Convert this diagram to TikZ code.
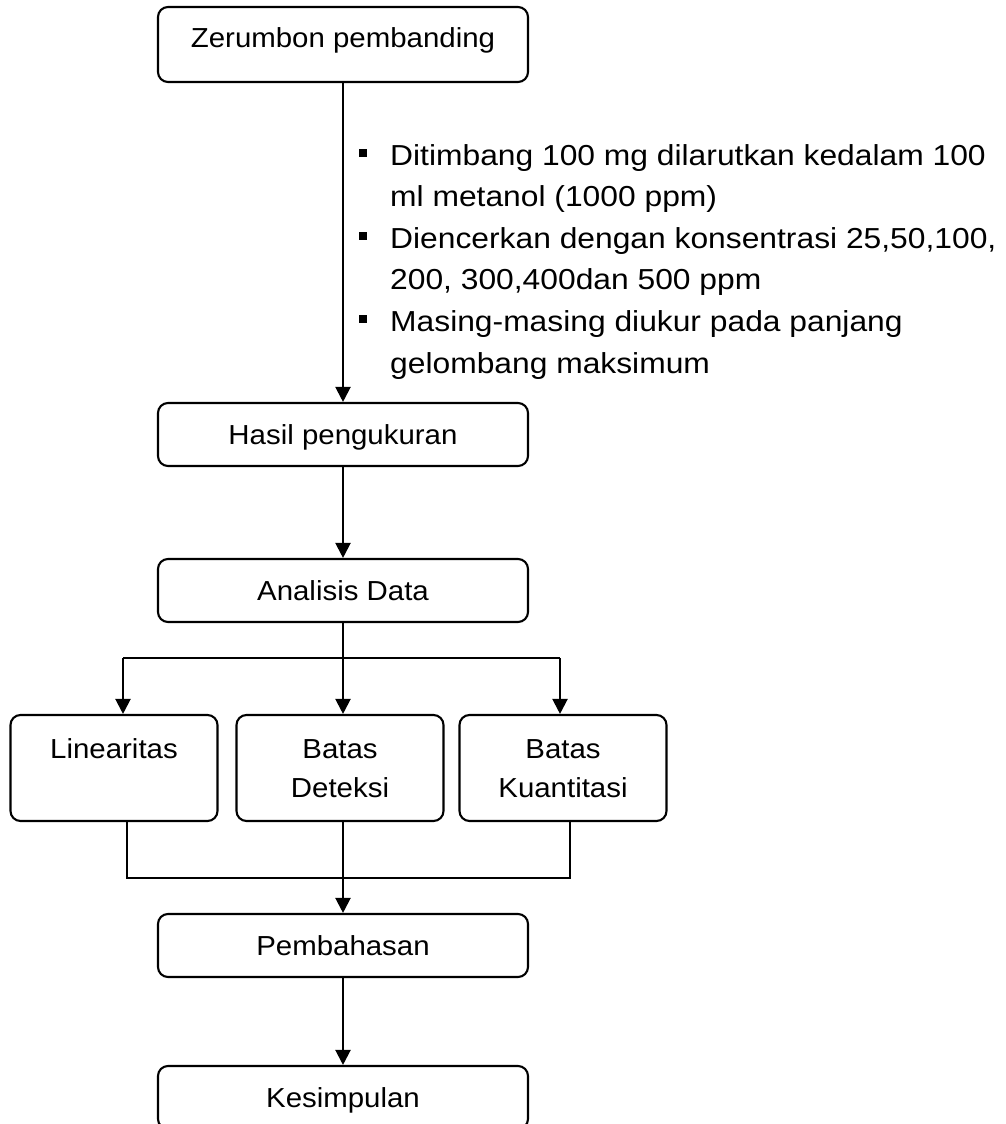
\documentclass[tikz,border=0pt]{standalone}
\usepackage{fontspec}
\setmainfont{Liberation Sans}
\newfontfamily\boxfont[FakeStretch=1.07]{Liberation Sans}
\newfontfamily\bulfont[FakeStretch=1.1]{Liberation Sans}
\usetikzlibrary{arrows.meta}
\begin{document}
\begin{tikzpicture}[x=1pt,y=1pt,
  box/.style={draw, line width=2.1pt, rounded corners=10pt, minimum width=370pt, minimum height=63pt, inner sep=0pt, font=\boxfont\fontsize{27.5}{36}\selectfont, text height=19pt, text depth=0pt},
  lowbox/.style={draw, line width=2.1pt, rounded corners=10pt, minimum width=207pt, minimum height=106pt, inner sep=0pt},
  lowtxt/.style={anchor=base, inner sep=0pt, font=\boxfont\fontsize{27.5}{36}\selectfont},
  bul/.style={anchor=base west, inner sep=0pt, font=\bulfont\fontsize{28.9}{40}\selectfont},
  arr/.style={line width=2.1pt, -{Triangle[length=15pt,width=15pt]}},
  conn/.style={line width=2.1pt},
  thinconn/.style={line width=1.5pt}]
\useasboundingbox (0,0) rectangle (1006,-1124);
\clip (0,0) rectangle (1006,-1124);

% boxes
\node[box, minimum height=75pt, text height=19pt, text depth=12pt] (z) at (343,-44.5) {Zerumbon pembanding};
\node[box] (h) at (343,-434.5) {Hasil pengukuran};
\node[box] (a) at (343,-590.5) {Analisis Data};
\node[lowbox] (lin) at (114,-768) {};
\node[lowbox] (bd) at (340,-768) {};
\node[lowbox] (bk) at (563,-768) {};
\node[box] (p) at (343,-945.5) {Pembahasan};
\node[box] (k) at (343,-1097.5) {Kesimpulan};

% texts of lower boxes
\node[lowtxt] (linA) at (114,-758) {Linearitas};
\node[lowtxt] (bdA) at (340,-758) {Batas};
\node[lowtxt] (bdB) at (340,-797) {Deteksi};
\node[lowtxt] (bkA) at (563,-758) {Batas};
\node[lowtxt] (bkB) at (563,-797) {Kuantitasi};

% bullet list
\node[bul] (b1) at (390,-165) {Ditimbang 100 mg dilarutkan kedalam 100};
\node[bul] (b2) at (390,-206.6) {ml metanol (1000 ppm)};
\node[bul] (b3) at (390,-248.2) {Diencerkan dengan konsentrasi 25,50,100,};
\node[bul] (b4) at (390,-289.8) {200, 300,400dan 500 ppm};
\node[bul] (b5) at (390,-331.4) {Masing-masing diukur pada panjang};
\node[bul] (b6) at (390,-373) {gelombang maksimum};
\fill (359,-149) rectangle (367,-157);
\fill (359,-232) rectangle (367,-240);
\fill (359,-315) rectangle (367,-323);

% connectors
\draw[arr] (z.south) -- (h.north);
\draw[arr] (h.south) -- (a.north);
\coordinate (bl) at (123,-658);
\coordinate (brt) at (560,-658);
\draw[conn] (bl) -- (brt);
\draw[arr] (bl) -- (bl |- lin.north);
\draw[arr] (brt) -- (brt |- bk.north);
\draw[arr] (a.south) -- (a.south |- bd.north);
\coordinate (jl) at (127,-878);
\coordinate (jr) at (570,-878);
\draw[thinconn] (jl |- lin.south) -- (jl) -- (jr) -- (jr |- bk.south);
\draw[arr] (bd.south -| p.north) -- (p.north);
\draw[arr] (p.south) -- (k.north);
\end{tikzpicture}
\end{document}
